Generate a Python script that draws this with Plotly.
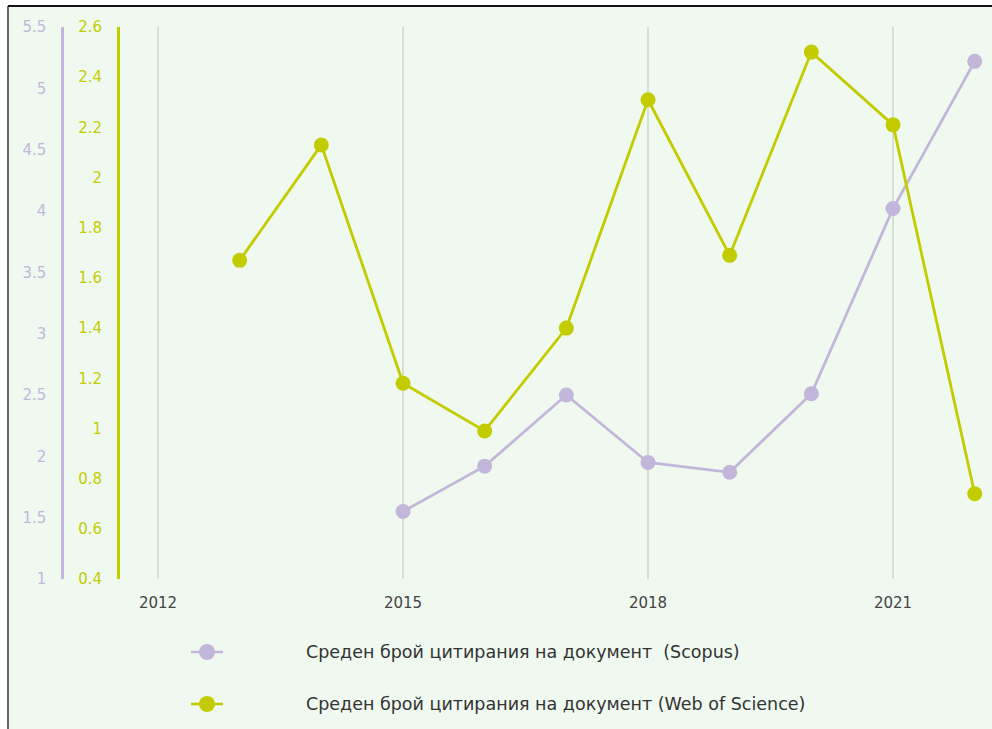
import plotly.graph_objects as go

W, H = 992, 729

years_scopus = [2015, 2016, 2017, 2018, 2019, 2020, 2021, 2022]
scopus = [1.55, 1.92, 2.50, 1.95, 1.87, 2.51, 4.02, 5.22]

years_wos = [2013, 2014, 2015, 2016, 2017, 2018, 2019, 2020, 2021, 2022]
wos = [1.67, 2.13, 1.18, 0.99, 1.40, 2.31, 1.69, 2.50, 2.21, 0.74]

name_scopus = "Среден брой цитирания на документ  (Scopus)"
name_wos = "Среден брой цитирания на документ (Web of Science)"

PURPLE = "#c2b7da"
GREEN = "#c3cc00"
BG = "#f0f9f0"
FONT = "DejaVu Sans, Open Sans, sans-serif"

T, B = 27, 150
plot_h = H - T - B


def px(x):
    return x / W


def py(y):
    return (H - B - y) / plot_h


fig = go.Figure()
fig.add_trace(go.Scatter(
    x=years_scopus, y=scopus, name=name_scopus, mode="lines+markers",
    line=dict(color=PURPLE, width=2.8), marker=dict(color=PURPLE, size=15),
    yaxis="y", showlegend=False,
))
fig.add_trace(go.Scatter(
    x=years_wos, y=wos, name=name_wos, mode="lines+markers",
    line=dict(color=GREEN, width=2.8), marker=dict(color=GREEN, size=15),
    yaxis="y2", showlegend=False,
))

fig.update_layout(
    width=W, height=H,
    margin=dict(l=0, r=0, t=T, b=B, pad=0),
    paper_bgcolor=BG, plot_bgcolor=BG,
    font=dict(family=FONT, size=14, color="#444"),
    xaxis=dict(
        domain=[px(130), px(985)],
        range=[2011.657, 2022.126],
        tick0=2012, dtick=3, tickmode="linear",
        showgrid=True, gridcolor="#d6dfd6", gridwidth=2,
        zeroline=False, showline=False,
        ticks="", ticklabelstandoff=13,
        tickfont=dict(size=15, color="#444"),
    ),
    yaxis=dict(
        range=[1, 5.5], dtick=0.5, tick0=1, tickmode="linear",
        anchor="free", position=px(62), side="left",
        showgrid=False, zeroline=False,
        showline=True, linecolor=PURPLE, linewidth=2.5,
        ticks="", ticklabelstandoff=12,
        tickfont=dict(size=15, color=PURPLE),
    ),
    yaxis2=dict(
        range=[0.4, 2.6], dtick=0.2, tick0=0.4, tickmode="linear",
        anchor="free", position=px(118), side="left", overlaying="y",
        showgrid=False, zeroline=False,
        showline=True, linecolor=GREEN, linewidth=3,
        ticks="", ticklabelstandoff=12,
        tickfont=dict(size=15, color=GREEN),
    ),
    showlegend=False,
)

shapes = [
    dict(type="rect", xref="paper", yref="paper",
         x0=-1, x1=px(8), y0=-2, y1=2, fillcolor="white",
         line=dict(width=0), layer="below"),
    dict(type="rect", xref="paper", yref="paper",
         x0=-1, x1=2, y0=py(6), y1=py(-5), fillcolor="white",
         line=dict(width=0), layer="below"),
    dict(type="line", xref="paper", yref="paper",
         x0=px(8), x1=px(8), y0=py(735), y1=py(6),
         line=dict(color="#666", width=2)),
    dict(type="line", xref="paper", yref="paper",
         x0=px(8), x1=2, y0=py(6), y1=py(6),
         line=dict(color="#111", width=2)),
]

annotations = []
for name, color, yc in [(name_scopus, PURPLE, 652), (name_wos, GREEN, 704)]:
    shapes.append(dict(type="line", xref="paper", yref="paper",
                       x0=px(191), x1=px(223), y0=py(yc), y1=py(yc),
                       line=dict(color=color, width=2.5)))
    shapes.append(dict(type="circle", xref="paper", yref="paper",
                       x0=px(199), x1=px(215), y0=py(yc + 8), y1=py(yc - 8),
                       fillcolor=color, line=dict(width=0)))
    annotations.append(dict(text=name, xref="paper", yref="paper",
                            x=px(304), y=py(yc), xanchor="left", yanchor="middle",
                            showarrow=False,
                            font=dict(size=17.5, color="#333", family=FONT)))

fig.update_layout(shapes=shapes, annotations=annotations)

fig.write_html(
    "out.html",
    config={"displayModeBar": False},
    post_script="document.body.style.margin='0px';document.body.style.overflow='hidden';",
)
